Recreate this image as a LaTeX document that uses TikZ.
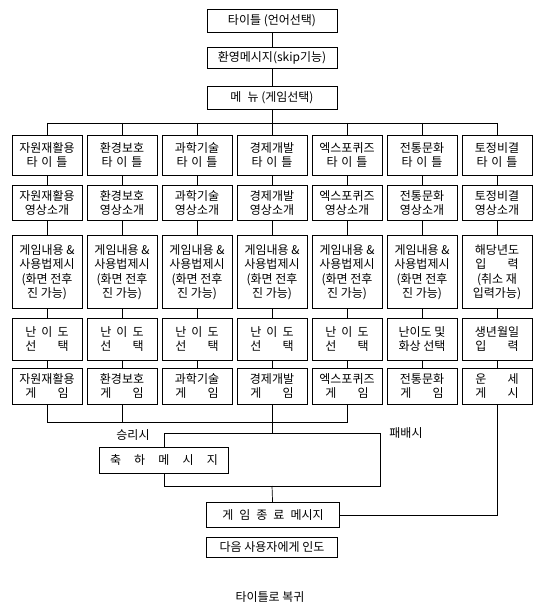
\documentclass[tikz,border=0pt]{standalone}
\usepackage{fontspec}
\setmainfont{Noto Sans CJK KR}
\usetikzlibrary{positioning}
\tikzset{
  box/.style={draw,inner sep=1pt,align=center},
  topbox/.style={box,minimum width=130,minimum height=23},
  colbox/.style={box,minimum width=70},
}
\newcommand{\spr}[2]{\makebox[#1][s]{#2}}

\begin{document}
\begin{tikzpicture}[x=1pt,y=-1pt,line width=0.7pt,font=\fontsize{12}{14.5}\selectfont]
\useasboundingbox (0,0) rectangle (536,609);

% start and menu
\node[topbox] (title) at (272,21) {타이틀 (언어선택)};
\node[topbox,minimum height=21] (welcome) at (272,57.5) {환영메시지(skip기능)};
\node[topbox] (menu) at (272,98) {메\enspace 뉴 (게임선택)};
\draw (title) -- (welcome);
\draw (welcome) -- (menu);

% bus to the seven games
\coordinate (busL) at (47,123);
\coordinate (busR) at (497,123);
\draw (busL) -- (busR);
\draw (menu) -- (menu |- busL);

% titles and video intros
\foreach \i/\nm in {1/자원재활용,2/환경보호,3/과학기술,4/경제개발,5/엑스포퀴즈,6/전통문화,7/토정비결}{
  \node[colbox,minimum height=40] (t\i) at ({-28+75*\i},155) {\nm\\\spr{3.4em}{타 이 틀}};
  \node[colbox,minimum height=35] (v\i) at ({-28+75*\i},203) {\nm\\영상소개};
  \draw (t\i |- busL) -- (t\i);
  \draw (t\i) -- (v\i);
}

% game help
\foreach \i in {1,...,6}
  \node[colbox,minimum height=73] (h\i) at ({-28+75*\i},272) {게임내용 \&\\사용법제시\\(화면 전후\\진 가능)};
\node[colbox,minimum height=73] (h7) at (497,272) {해당년도\\\spr{3.6em}{입 력}\\(취소 재\\입력가능)};

% difficulty
\foreach \i in {1,...,5}
  \node[colbox,minimum height=42] (d\i) at ({-28+75*\i},339) {\spr{3.6em}{난 이 도}\\\spr{3.6em}{선 택}};
\node[colbox,minimum height=42] (d6) at (422,339) {난이도 및\\화상 선택};
\node[colbox,minimum height=42] (d7) at (497,339) {생년월일\\\spr{3.6em}{입 력}};

% games
\foreach \i/\nm in {1/자원재활용,2/환경보호,3/과학기술,4/경제개발,5/엑스포퀴즈,6/전통문화}
  \node[colbox,minimum height=36] (g\i) at ({-28+75*\i},386) {\nm\\\spr{3.6em}{게 임}};
\node[colbox,minimum height=36] (g7) at (497,386) {\spr{3.6em}{운 세}\\\spr{3.6em}{게 시}};

\foreach \i in {1,...,7}{
  \draw (v\i) -- (h\i);
  \draw (h\i) -- (d\i);
  \draw (d\i) -- (g\i);
}

% win / lose
\coordinate (lowbus) at (0,422);
\draw (g1) |- (g5 |- lowbus) -- (g5);
\foreach \i in {2,4} \draw (g\i) -- (g\i |- lowbus);
\coordinate (win) at (164,433);
\coordinate (lose) at (380,433);
\coordinate (join) at (164,486);
\draw (g4 |- lowbus) -- (g4 |- win);
\draw (win) -- (lose);
\node (winlbl) at (133,435) {승리시};
\node (loselbl) at (406,433) {패배시};
\node[box,minimum width=129,minimum height=26] (congrats) at (164,460) {\spr{9em}{축 하 메 시 지}};
\draw (win) -- (congrats);
\draw (congrats) -- (join) -| (lose);

% end
\node[box,minimum width=133,minimum height=25] (end) at (273,515) {게\enspace 임\enspace 종\enspace 료\enspace 메시지};
\draw (g4 |- join) -- (end);
\draw (end) -| (g7);
\node[box,minimum width=131,minimum height=20] (next) at (272,547) {다음 사용자에게 인도};
\node (back) at (270,597) {타이틀로 복귀};
\end{tikzpicture}
\end{document}
